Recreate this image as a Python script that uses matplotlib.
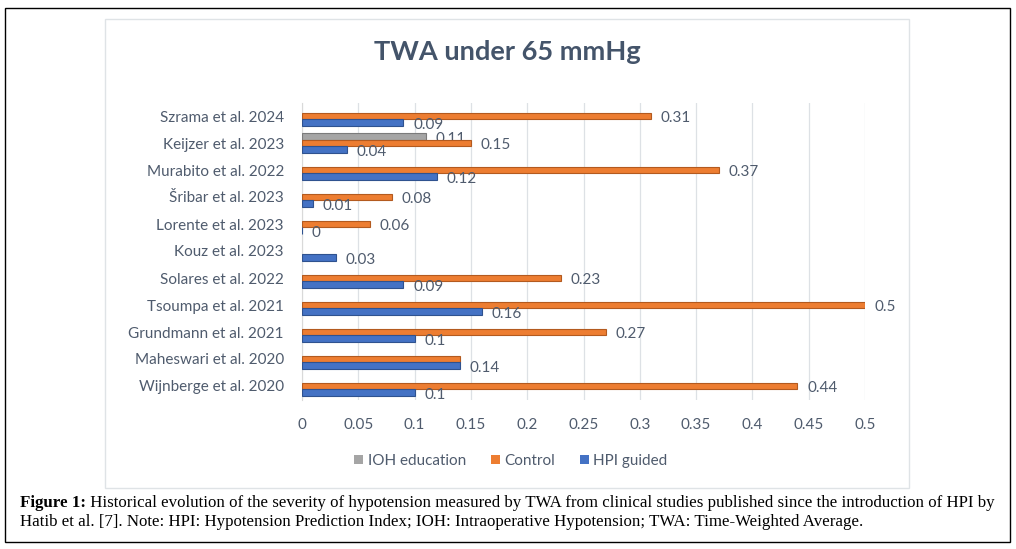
import numpy as np
import matplotlib.pyplot as plt
from matplotlib.patches import Patch, Rectangle

# studies, top to bottom as in the chart
studies = ["Szrama et al. 2024", "Keijzer et al. 2023", "Murabito et al. 2022",
           "Šribar et al. 2023", "Lorente et al. 2023", "Kouz et al. 2023",
           "Solares et al. 2022", "Tsoumpa et al. 2021", "Grundmann et al. 2021",
           "Maheswari et al. 2020", "Wijnberge et al. 2020"]
ioh_education = [np.nan, 0.11, np.nan, np.nan, np.nan, np.nan, np.nan, np.nan, np.nan, np.nan, np.nan]
control = [0.31, 0.15, 0.37, 0.08, 0.06, np.nan, 0.23, 0.5, 0.27, 0.14, 0.44]
hpi_guided = [0.09, 0.04, 0.12, 0.01, 0, 0.03, 0.09, 0.16, 0.1, 0.14, 0.1]
xticks = [0, 0.05, 0.1, 0.15, 0.2, 0.25, 0.3, 0.35, 0.4, 0.45, 0.5]

W, H = 1016, 549
txt_col = "#4f5b6d"
font = "Lato"
fs = 11

fig = plt.figure(figsize=(W / 100, H / 100), dpi=100)
fig.patch.set_facecolor("white")

# outer frame and chart box
fig.add_artist(Rectangle((5 / W, 1 - 542 / H), 1005 / W, 534 / H, transform=fig.transFigure,
                         fill=False, edgecolor="black", lw=1.0))
fig.add_artist(Rectangle((105 / W, 1 - 488 / H), 804 / W, 469 / H, transform=fig.transFigure,
                         fill=False, edgecolor="#dfe3e6", lw=1.0))

ax = fig.add_axes([302 / W, 1 - 399.5 / H, 563 / W, 297 / H])

y = np.arange(len(studies))[::-1]
h = 0.24
series = [
    (ioh_education, "IOH education", "#a5a5a5", "#7b7b7b", h),
    (control, "Control", "#ed7d31", "#b35a1f", 0.0),
    (hpi_guided, "HPI guided", "#4472c4", "#2f528f", -h),
]
for k, (vals, name, col, edge, off) in enumerate(series):
    vals = np.array(vals, dtype=float)
    ax.barh(y + off, vals, height=h, color=col, edgecolor=edge, linewidth=0.8, zorder=3)
    for i, (yy, v) in enumerate(zip(y, vals)):
        if np.isnan(v):
            continue
        # the chart shows one shared label where control and HPI coincide
        if name == "Control" and v == hpi_guided[i]:
            continue
        ax.annotate(f"{v:g}", xy=(v, yy + off), xytext=(7, -1.5), textcoords="offset points",
                    ha="left", va="center", fontsize=fs, color=txt_col, family=font,
                    annotation_clip=False)

ax.set_xlim(0, 0.5)
ax.set_ylim(-0.5, len(studies) - 0.5)
ax.set_yticks(y)
ax.set_yticklabels(studies, fontsize=fs, color=txt_col, family=font)
ax.set_xticks(xticks)
ax.set_xticklabels([f"{v:g}" for v in xticks], fontsize=fs, color=txt_col, family=font)
ax.tick_params(axis="both", length=0)
ax.tick_params(axis="x", pad=13)
ax.tick_params(axis="y", pad=13)
ax.grid(axis="x", color="#dde1e5", lw=0.9, zorder=0)
ax.set_axisbelow(True)
for s in ["top", "right", "bottom"]:
    ax.spines[s].set_visible(False)
ax.spines["left"].set_color("#d9d9d9")
ax.patch.set_alpha(0)

fig.text(507 / W, 1 - 52 / H, "TWA under 65 mmHg", ha="center", va="center",
         fontsize=19.6, fontweight="bold", color="#44546a", family=font)

handles = [Patch(facecolor=c, edgecolor="none", label=n) for _, n, c, _, _ in series]
fig.legend(handles=handles, loc="center", bbox_to_anchor=(511 / W, 1 - 461 / H), ncol=3,
           frameon=False, handlelength=0.6, handleheight=0.6, handletextpad=0.3,
           columnspacing=1.6, prop={"family": font, "size": fs}, labelcolor=txt_col)

# caption
cap_font = "Liberation Serif"
cfs = 12.2
fig_lbl = fig.text(20 / W, 1 - 503 / H, "Figure 1:", ha="left", va="center",
                   fontsize=cfs, fontweight="bold", family=cap_font, color="black")
plt.annotate(" Historical evolution of the severity of hypotension measured by TWA from clinical "
             "studies published since the introduction of HPI by",
             xy=(1, 0.5), xycoords=fig_lbl, ha="left", va="center",
             fontsize=cfs, family=cap_font, color="black")
fig.text(20 / W, 1 - 522 / H,
         "Hatib et al. [7]. Note: HPI: Hypotension Prediction Index; IOH: Intraoperative "
         "Hypotension; TWA: Time-Weighted Average.",
         ha="left", va="center", fontsize=cfs, family=cap_font, color="black")

fig.savefig("out.png", dpi=100)
